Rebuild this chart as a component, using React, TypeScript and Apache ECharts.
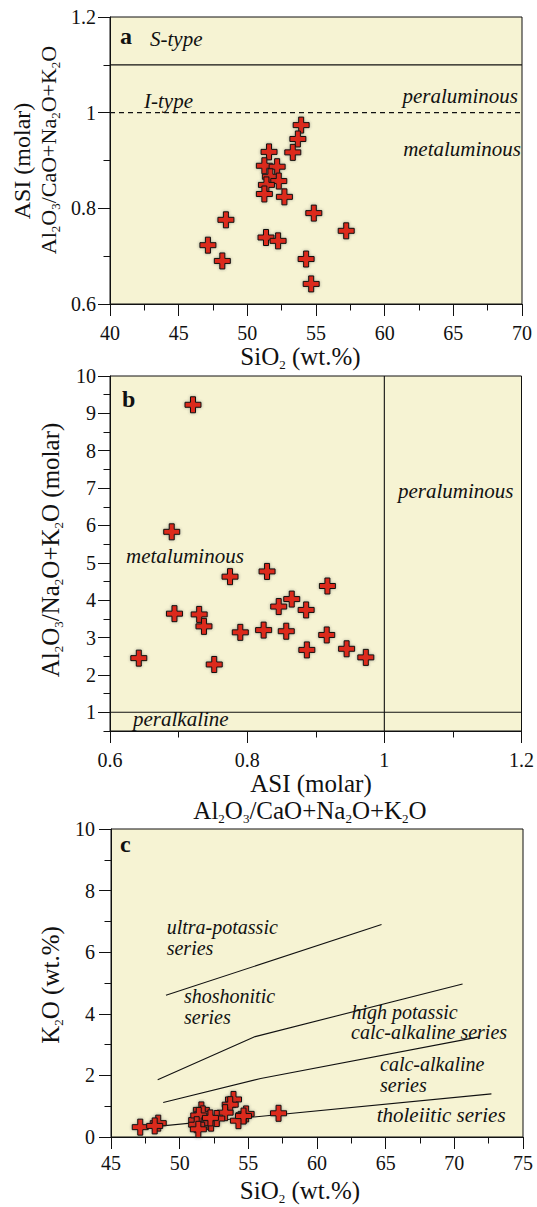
import React, { useEffect, useRef } from "react";
import * as echarts from "echarts";

const FONT = "Liberation Serif, Times New Roman, serif";

// ---- Panel a: SiO2 vs ASI ----
const sio2 = [53.92, 53.68, 53.31, 51.58, 51.24, 52.17, 51.68, 52.29, 51.39, 51.24, 52.7, 48.44, 54.84, 47.13, 48.18, 51.36, 52.24, 54.28, 54.65, 57.2];
const asiA = [0.974, 0.945, 0.917, 0.918, 0.889, 0.887, 0.866, 0.857, 0.849, 0.83, 0.824, 0.776, 0.79, 0.723, 0.69, 0.739, 0.732, 0.694, 0.642, 0.753];

// ---- Panel b: ASI vs A/NK ----
const asiB = [0.721, 0.69, 0.775, 0.829, 0.917, 0.865, 0.846, 0.886, 0.694, 0.73, 0.737, 0.79, 0.824, 0.857, 0.916, 0.887, 0.945, 0.973, 0.642, 0.752];
const ankB = [9.23, 5.83, 4.63, 4.77, 4.38, 4.03, 3.83, 3.74, 3.64, 3.62, 3.3, 3.14, 3.2, 3.17, 3.07, 2.67, 2.7, 2.47, 2.45, 2.28];

// ---- Panel c: SiO2 vs K2O ----
const k2oC = [1.22, 1.05, 0.79, 0.88, 0.55, 0.5, 0.75, 0.45, 0.7, 0.4, 0.6, 0.45, 0.75, 0.32, 0.36, 0.25, 0.62, 0.53, 0.68, 0.77];

// Boundaries
const sTypeLine = [[40, 1.1], [70, 1.1]];
const iTypeLine = [[40, 1.0], [70, 1.0]];
const asiOneLine = [[1, 0.5], [1, 10]];
const ankOneLine = [[0.6, 1], [1.2, 1]];
const ultraLine = [[49.0, 4.6], [64.7, 6.9]];
const shoshLine = [[48.4, 1.86], [55.5, 3.26], [70.6, 4.97]];
const highKLine = [[48.8, 1.12], [55.9, 1.9], [71.8, 3.25]];
const tholLine = [[48.0, 0.33], [72.7, 1.4]];

// Tick values
const ticksBMajor = [1, 2, 3, 4, 5, 6, 7, 8, 9, 10];
const ticksBMinor = [0.5, 1.5, 2.5, 3.5, 4.5, 5.5, 6.5, 7.5, 8.5, 9.5];

const INK = "#111";
const BG = "#f6f3d3";
const CROSS = "path://M5.5,0H10.5V5.5H16V10.5H10.5V16H5.5V10.5H0V5.5H5.5Z";

const pair = (xs: number[], ys: number[]) => xs.map((x, i) => [x, ys[i]]);

const tickStyle = { color: INK, width: 1 };

function xAx(gridIndex: number, min: number, max: number, interval: number, margin: number) {
  return {
    type: "value",
    gridIndex,
    min,
    max,
    interval,
    axisLine: { show: true, onZero: false, lineStyle: tickStyle },
    axisTick: { show: true, length: 12, lineStyle: tickStyle },
    minorTick: { show: true, splitNumber: 2, length: 6.5, lineStyle: tickStyle },
    splitLine: { show: false },
    minorSplitLine: { show: false },
    axisLabel: { color: INK, fontFamily: FONT, fontSize: 20, margin },
  };
}

function yAx(gridIndex: number, min: number, max: number, interval: number, margin: number) {
  return { ...xAx(gridIndex, min, max, interval, margin), position: "left" };
}

const scatter = (xi: number, yi: number, data: number[][]) => ({
  type: "scatter",
  xAxisIndex: xi,
  yAxisIndex: yi,
  data,
  symbol: CROSS,
  symbolSize: 16,
  z: 10,
  itemStyle: {
    color: "#dc2a1c",
    borderColor: INK,
    borderWidth: 1,
    shadowBlur: 3,
    shadowColor: "rgba(60,60,60,0.45)",
    opacity: 1,
  },
  emphasis: { disabled: true },
});

const line = (xi: number, yi: number, data: number[][], dashed = false) => ({
  type: "line",
  xAxisIndex: xi,
  yAxisIndex: yi,
  data,
  symbol: "none",
  showSymbol: false,
  silent: true,
  z: 5,
  lineStyle: { color: INK, width: 1.1, type: dashed ? [5, 4] : "solid" },
});

const richFor = (size: number, sub: number) => ({
  n: { fontSize: size, fontFamily: FONT, fill: INK, lineHeight: size + 4 },
  s: { fontSize: sub, fontFamily: FONT, fill: INK, lineHeight: sub, verticalAlign: "bottom" },
});

const title = (text: string, x: number, y: number, size = 25, rot = 0) => ({
  type: "text",
  x,
  y,
  rotation: rot,
  silent: true,
  z: 100,
  style: {
    text,
    rich: richFor(size, 13),
    fill: INK,
    align: "center",
    verticalAlign: "middle",
  },
});

const label = (text: string, x: number, y: number, align = "left", extra: any = {}) => ({
  type: "text",
  x,
  y,
  silent: true,
  z: 100,
  style: {
    text,
    fontFamily: FONT,
    fontSize: 21,
    fontStyle: "italic",
    fill: INK,
    align,
    verticalAlign: "middle",
    ...extra,
  },
});

const small = { fontSize: 20 };

const letter = (text: string, x: number, y: number) =>
  label(text, x, y, "left", { fontStyle: "normal", fontWeight: "bold", fontSize: 24 });

const R = Math.PI / 2;

const option = {
  animation: false,
  backgroundColor: "#ffffff",
  grid: [
    { left: 110, top: 17, width: 412, height: 287, show: true, backgroundColor: BG, borderColor: INK, borderWidth: 1 },
    { left: 110, top: 376, width: 413, height: 355, show: true, backgroundColor: BG, borderColor: INK, borderWidth: 1 },
    { left: 111, top: 829, width: 412, height: 308, show: true, backgroundColor: BG, borderColor: INK, borderWidth: 1 },
  ],
  xAxis: [xAx(0, 40, 70, 5, 19), xAx(1, 0.6, 1.2, 0.2, 19), xAx(2, 45, 75, 5, 16)],
  yAxis: [
    yAx(0, 0.6, 1.2, 0.2, 14),
    {
      ...yAx(1, 0.5, 10, 0.5, 14),
      minorTick: { show: false },
      axisTick: { show: true, length: 12, lineStyle: tickStyle, customValues: ticksBMajor },
      axisLabel: { color: INK, fontFamily: FONT, fontSize: 20, margin: 14, customValues: ticksBMajor },
    },
    {
      ...yAx(1, 0.5, 10, 0.5, 14),
      axisLine: { show: false },
      minorTick: { show: false },
      axisLabel: { show: false },
      axisTick: { show: true, length: 6.5, lineStyle: tickStyle, customValues: ticksBMinor },
    },
    yAx(2, 0, 10, 2, 16),
  ],
  series: [
    line(0, 0, sTypeLine),
    line(0, 0, iTypeLine, true),
    scatter(0, 0, pair(sio2, asiA)),
    line(1, 1, asiOneLine),
    line(1, 1, ankOneLine),
    scatter(1, 1, pair(asiB, ankB)),
    line(2, 3, ultraLine),
    line(2, 3, shoshLine),
    line(2, 3, highKLine),
    line(2, 3, tholLine),
    scatter(2, 3, pair(sio2, k2oC)),
  ],
  graphic: [
    // panel a
    letter("a", 120, 36),
    label("S-type", 150, 38.5),
    label("I-type", 144, 101),
    label("peraluminous", 518, 95.5, "right"),
    label("metaluminous", 521, 149, "right"),
    title("{n|SiO}{s|2}{n| (wt.%)}", 300.5, 356),
    title("{n|ASI (molar)}", 21.7, 161, 24, R),
    title("{n|Al}{s|2}{n|O}{s|3}{n|/CaO+Na}{s|2}{n|O+K}{s|2}{n|O}", 48.5, 150, 22, R),
    // panel b
    letter("b", 122, 398.6),
    label("peraluminous", 398, 491),
    label("metaluminous", 126, 556),
    label("peralkaline", 133, 719),
    title("{n|Al}{s|2}{n|O}{s|3}{n|/Na}{s|2}{n|O+K}{s|2}{n|O (molar)}", 50, 550, 25, R),
    title("{n|ASI (molar)}", 311, 783),
    title("{n|Al}{s|2}{n|O}{s|3}{n|/CaO+Na}{s|2}{n|O+K}{s|2}{n|O}", 310, 810),
    // panel c
    letter("c", 120, 843.6),
    label("ultra-potassic", 166.7, 926.5, "left", small),
    label("series", 166.7, 947.5, "left", small),
    label("shoshonitic", 184, 996.2, "left", small),
    label("series", 184, 1017.2, "left", small),
    label("high potassic", 351.5, 1011.5, "left", small),
    label("calc-alkaline series", 351, 1032.2, "left", small),
    label("calc-alkaline", 380, 1063.8, "left", small),
    label("series", 380, 1084.6, "left", small),
    label("tholeiitic series", 376.7, 1115.2),
    title("{n|K}{s|2}{n|O (wt.%)}", 50, 985, 25, R),
    title("{n|SiO}{s|2}{n| (wt.%)}", 300, 1190),
  ],
};

export default function App() {
  const ref = useRef<HTMLDivElement>(null);
  useEffect(() => {
    if (!ref.current) return;
    const chart = echarts.init(ref.current, null, { renderer: "svg" });
    chart.setOption(option as any);
    return () => chart.dispose();
  }, []);
  return (
    <div
      ref={ref}
      style={{ position: "absolute", left: 0, top: 0, width: 537, height: 1207, background: "#fff" }}
    />
  );
}
